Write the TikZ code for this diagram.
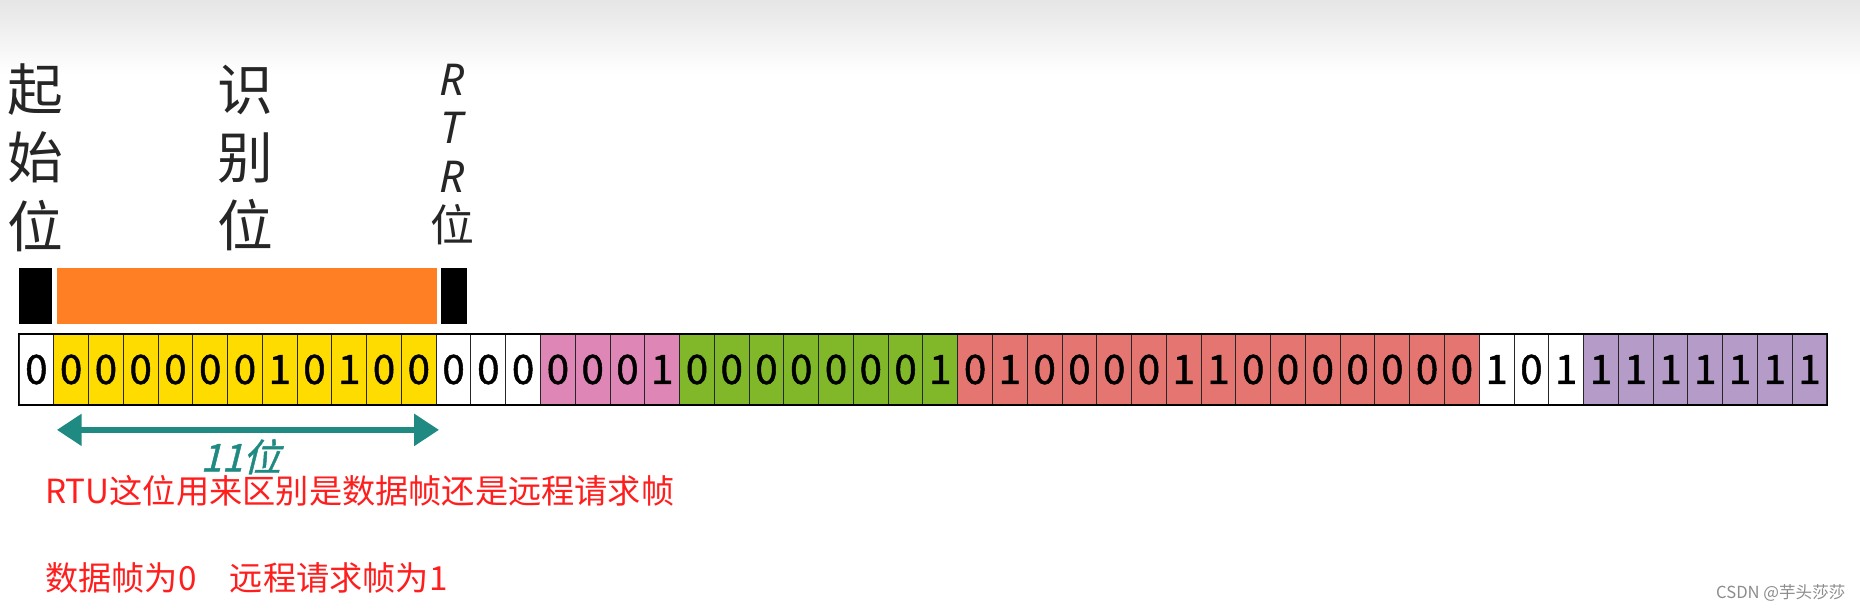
\documentclass[tikz,border=0pt]{standalone}
\usepackage{fontspec}
\setmainfont{Noto Sans CJK SC}
\newfontfamily\latinsans{Noto Sans}
\newfontfamily\bitfont{Noto Sans CJK SC}[FakeBold=1.2]
\usepackage{xcolor}
\usetikzlibrary{positioning, arrows.meta}

\definecolor{bityellow}{HTML}{FFDC00}
\definecolor{bitpink}{HTML}{DE86B6}
\definecolor{bitgreen}{HTML}{80B82A}
\definecolor{bitred}{HTML}{E47570}
\definecolor{bitpurple}{HTML}{B59CC8}
\definecolor{idorange}{HTML}{FF7F24}
\definecolor{idteal}{HTML}{1F8A82}
\definecolor{notered}{HTML}{FF1E1E}

\begin{document}
\begin{tikzpicture}[x=1pt, y=-1pt,
    bit/.style={draw=black!85, line width=0.8pt, minimum width=29.31pt, minimum height=59pt,
        inner sep=0pt, font=\bitfont\fontsize{34}{34}\selectfont},
    fieldlabel/.style={align=center, text=black!85, inner sep=0pt, font=\fontsize{47}{57.5}\selectfont},
    marker/.style={inner sep=0pt, minimum height=47pt},
    note/.style={anchor=west, text=notered, inner sep=0pt, font=\fontsize{28}{28}\selectfont}]
    \useasboundingbox (0,0) rectangle (1568,518);
    \fill[top color=black!10, bottom color=white] (0,0) rectangle (1568,62);

    % field names above the frame
    \node[fieldlabel] (sof) at (30,133) {起\\始\\位};
    \node[fieldlabel] (ident) at (207,133) {识\\别\\位};
    \node[fieldlabel, font=\fontsize{37}{41}\selectfont] (rtr) at (381,130)
        {{\latinsans\itshape R}\\{\latinsans\itshape T}\\{\latinsans\itshape R}\\位};

    % markers
    \node[marker, fill=black, minimum width=28pt] (sofbar) at (30,249.5) {};
    \node[marker, fill=idorange, minimum width=320pt] (identbar) at (208,249.5) {};
    \node[marker, fill=black, minimum width=22pt] (rtrbar) at (383,249.5) {};

    % the bits of the frame
    \foreach \s/\col/\bits in {0/white/{0}, 1/bityellow/{0,0,0,0,0,0,1,0,1,0,0}, 12/white/{0,0,0},
        15/bitpink/{0,0,0,1}, 19/bitgreen/{0,0,0,0,0,0,0,1},
        27/bitred/{0,1,0,0,0,0,1,1,0,0,0,0,0,0,0}, 42/white/{1,0,1}, 45/bitpurple/{1,1,1,1,1,1,1}} {
        \foreach \d [count=\k from 0] in \bits {
            \pgfmathtruncatemacro\idx{\s+\k}
            \node[bit, fill=\col] (b\idx) at ({16+(\idx+0.5)*29.31},311.5) {\d};
        }
    }
    \draw[line width=1.4pt] (b0.north west) rectangle (b51.south east);

    % length of the identifier
    \coordinate (idl) at ([xshift=3pt,yshift=-21pt]b1.south west);
    \coordinate (idr) at ([xshift=2pt,yshift=-21pt]b11.south east);
    \draw[idteal, line width=5pt, {Triangle[length=21pt,width=26pt]}-{Triangle[length=21pt,width=26pt]}] (idl) -- (idr);
    \node[text=idteal, inner sep=0pt, xslant=0.25, transform shape, font=\bitfont\fontsize{32}{32}\selectfont]
        (idlen) at (206,385) {11位};

    % notes
    \node[note] (note1) at (38,414) {RTU这位用来区别是数据帧还是远程请求帧};
    \node[note] (note2) at (38,487) {数据帧为0\hspace{1em}远程请求帧为1};
    \node[anchor=east, text=black!45, inner sep=0pt, font=\fontsize{14}{14}\selectfont]
        (mark) at (1556,500) {CSDN @芋头莎莎};
\end{tikzpicture}
\end{document}
